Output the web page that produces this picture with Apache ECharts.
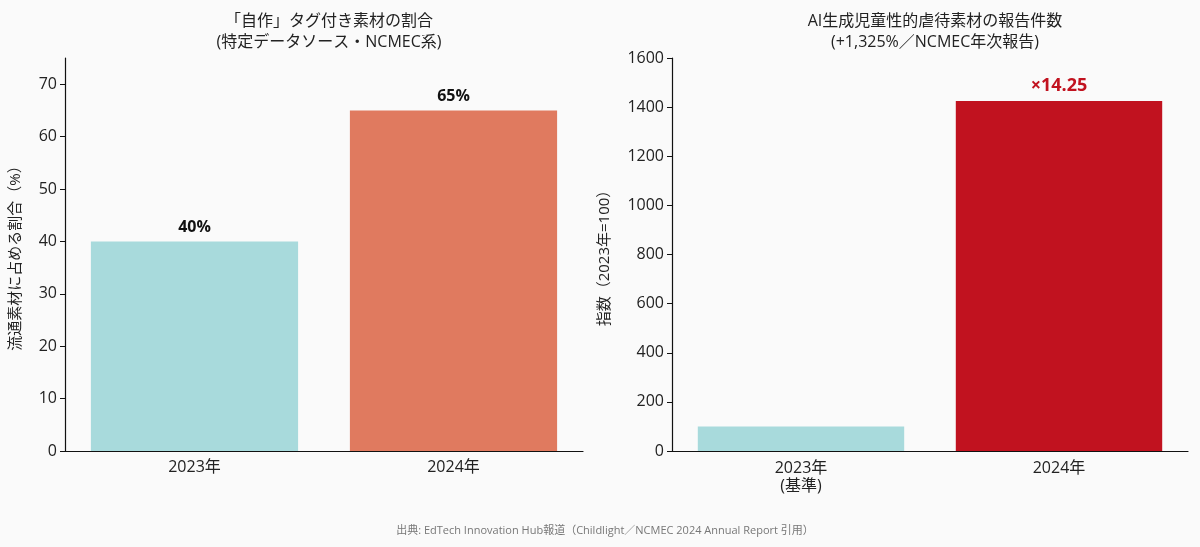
<!DOCTYPE html>
<html>
<head>
<meta charset="utf-8">
<script src="https://cdn.jsdelivr.net/npm/echarts@6/dist/echarts.min.js"></script>
<style>
  html, body { margin: 0; padding: 0; background: #fafafa; }
  #chart { width: 1200px; height: 547px; }
</style>
</head>
<body>
<div id="chart"></div>
<script>
const FONT = '"Open Sans", "Noto Sans CJK JP", sans-serif';

// left panel: share of "self-made" tagged material
const shareCategories = ['2023年', '2024年'];
const shareValues = [40, 65];
const shareLabels = ['40%', '65%'];

// right panel: AI-generated CSAM report index (2023 = 100)
const indexCategories = ['2023年\n(基準)', '2024年'];
const indexValues = [100, 1425];
const indexLabels = ['', '×14.25'];

const teal = '#a8dadc';
const orange = '#e07a5f';
const red = '#c1121f';

const axisText = { color: '#222', fontSize: 16, fontFamily: FONT };

const chart = echarts.init(document.getElementById('chart'));

const option = {
  backgroundColor: '#fafafa',
  animation: false,
  title: [
    {
      text: '「自作」タグ付き素材の割合\n(特定データソース・NCMEC系)',
      left: 324, top: 6, textAlign: 'center',
      textStyle: { fontSize: 16, fontWeight: 'normal', color: '#222', fontFamily: FONT, lineHeight: 21 }
    },
    {
      text: 'AI生成児童性的虐待素材の報告件数\n(+1,325%／NCMEC年次報告)',
      left: 930, top: 6, textAlign: 'center',
      textStyle: { fontSize: 16, fontWeight: 'normal', color: '#222', fontFamily: FONT, lineHeight: 21 }
    },
    {
      text: '出典: EdTech Innovation Hub報道（Childlight／NCMEC 2024 Annual Report 引用）',
      left: 600, top: 520, textAlign: 'center',
      textStyle: { fontSize: 11, fontWeight: 'normal', color: '#777', fontFamily: FONT }
    }
  ],
  grid: [
    { left: 65, top: 58, width: 518, height: 393 },
    { left: 672, top: 58, width: 516, height: 393 }
  ],
  xAxis: [
    {
      type: 'category', gridIndex: 0, data: shareCategories,
      axisLine: { lineStyle: { color: '#111', width: 1.2 } },
      axisTick: { alignWithLabel: true, length: 5, lineStyle: { color: '#111' } },
      axisLabel: Object.assign({ margin: 8 }, axisText)
    },
    {
      type: 'category', gridIndex: 1, data: indexCategories,
      axisLine: { lineStyle: { color: '#111', width: 1.2 } },
      axisTick: { alignWithLabel: true, length: 5, lineStyle: { color: '#111' } },
      axisLabel: Object.assign({ margin: 8, lineHeight: 18 }, axisText)
    }
  ],
  yAxis: [
    {
      type: 'value', gridIndex: 0, min: 0, max: 75, interval: 10,
      name: '流通素材に占める割合（%）', nameLocation: 'middle', nameGap: 42,
      nameTextStyle: { color: '#222', fontSize: 15, fontFamily: FONT },
      axisLine: { show: true, lineStyle: { color: '#111', width: 1.2 } },
      axisTick: { show: true, length: 5, lineStyle: { color: '#111' } },
      splitLine: { show: false },
      axisLabel: Object.assign({ margin: 8, showMaxLabel: false }, axisText)
    },
    {
      type: 'value', gridIndex: 1, min: 0, max: 1600, interval: 200,
      name: '指数（2023年=100）', nameLocation: 'middle', nameGap: 60,
      nameTextStyle: { color: '#222', fontSize: 15, fontFamily: FONT },
      axisLine: { show: true, lineStyle: { color: '#111', width: 1.2 } },
      axisTick: { show: true, length: 5, lineStyle: { color: '#111' } },
      splitLine: { show: false },
      axisLabel: Object.assign({ margin: 8, formatter: v => String(v) }, axisText)
    }
  ],
  series: [
    {
      type: 'bar', xAxisIndex: 0, yAxisIndex: 0, barWidth: '80%',
      data: shareValues.map((v, i) => ({
        value: v,
        itemStyle: { color: i === 0 ? teal : orange },
        label: { formatter: shareLabels[i] }
      })),
      label: {
        show: true, position: 'top', distance: 6,
        color: '#111', fontSize: 16, fontWeight: 'bold', fontFamily: FONT
      }
    },
    {
      type: 'bar', xAxisIndex: 1, yAxisIndex: 1, barWidth: '80%',
      data: indexValues.map((v, i) => ({
        value: v,
        itemStyle: { color: i === 0 ? teal : red },
        label: { show: indexLabels[i] !== '', formatter: indexLabels[i] }
      })),
      label: {
        show: true, position: 'top', distance: 6,
        color: red, fontSize: 18, fontWeight: 'bold', fontFamily: FONT
      }
    }
  ]
};

chart.setOption(option);
</script>
</body>
</html>
